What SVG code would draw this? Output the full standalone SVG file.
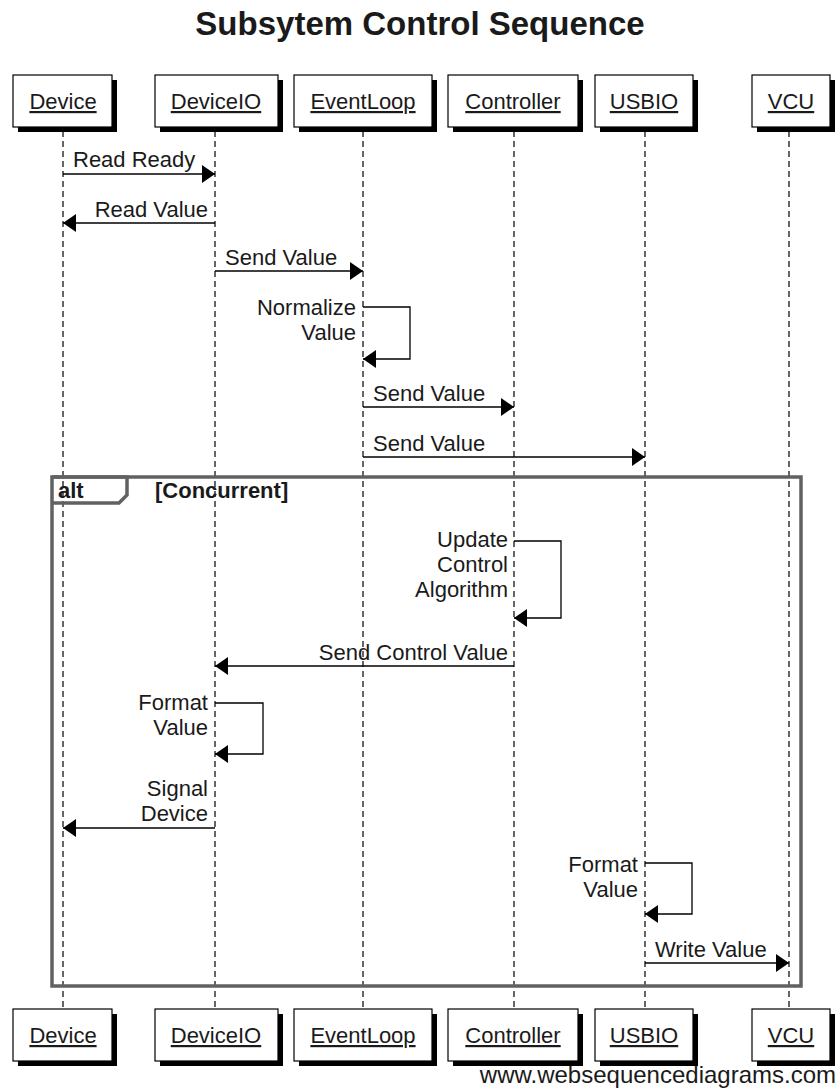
<svg xmlns="http://www.w3.org/2000/svg" width="840" height="1089" viewBox="0 0 840 1089">
<defs>
<marker id="ah" viewBox="0 0 13 18" refX="13" refY="9" markerWidth="13" markerHeight="18" markerUnits="userSpaceOnUse" orient="auto">
<path d="M0,0 L13,9 L0,18 z" fill="#000"/>
</marker>
</defs>
<style>
text{font-family:"Liberation Sans",Arial,sans-serif;fill:#1a1a1a;}
.lbl{font-size:22px;}
.msgl{font-size:22px;text-anchor:end;}
.pl{font-size:22px;text-anchor:middle;text-decoration:underline;}
.box{fill:#fff;stroke:#000;stroke-width:1.2;}
.shd{fill:#000;}
.life{stroke:#000;stroke-width:1.2;stroke-dasharray:6,4;fill:none;}
.msg{stroke:#000;stroke-width:1.3;fill:none;marker-end:url(#ah);}
.frame{fill:none;stroke:#616161;stroke-width:3.5;}
.bold{font-size:22px;font-weight:bold;}
</style>
<rect width="840" height="1089" fill="#fff"/>
<text x="420" y="35" text-anchor="middle" style="font-size:33px;font-weight:bold">Subsytem Control Sequence</text>

<g id="lifelines">
<line class="life" x1="63" y1="131" x2="63" y2="1009"/>
<line class="life" x1="215" y1="131" x2="215" y2="1009"/>
<line class="life" x1="363" y1="131" x2="363" y2="1009"/>
<line class="life" x1="514" y1="131" x2="514" y2="1009"/>
<line class="life" x1="645" y1="131" x2="645" y2="1009"/>
<line class="life" x1="789" y1="131" x2="789" y2="1009"/>
</g>

<g id="alt-frame">
<rect class="frame" x="52" y="477" width="749" height="509"/>
<path d="M52,477 H127 V495 L119,503 H52" fill="none" stroke="#616161" stroke-width="3.5"/>
<text class="bold" x="58" y="498">alt</text>
<text class="bold" x="155" y="498">[Concurrent]</text>
</g>

<g id="connectors">
<line class="msg" x1="63" y1="174" x2="215" y2="174"/>
<text class="lbl" x="73" y="167">Read Ready</text>
<line class="msg" x1="215" y1="223" x2="63" y2="223"/>
<text class="msgl" x="208" y="217">Read Value</text>
<line class="msg" x1="215" y1="271" x2="363" y2="271"/>
<text class="lbl" x="225" y="265">Send Value</text>
<path class="msg" d="M363,307 H410 V359 H363"/>
<text class="msgl" x="356" y="315">Normalize</text>
<text class="msgl" x="356" y="340">Value</text>
<line class="msg" x1="363" y1="407" x2="514" y2="407"/>
<text class="lbl" x="373" y="401">Send Value</text>
<line class="msg" x1="363" y1="457" x2="645" y2="457"/>
<text class="lbl" x="373" y="451">Send Value</text>
<path class="msg" d="M514,541 H561 V618 H514"/>
<text class="msgl" x="508" y="547">Update</text>
<text class="msgl" x="508" y="572">Control</text>
<text class="msgl" x="508" y="597">Algorithm</text>
<line class="msg" x1="514" y1="666" x2="215" y2="666"/>
<text class="msgl" x="508" y="660">Send Control Value</text>
<path class="msg" d="M215,703 H263 V754 H215"/>
<text class="msgl" x="208" y="710">Format</text>
<text class="msgl" x="208" y="735">Value</text>
<line class="msg" x1="215" y1="828" x2="63" y2="828"/>
<text class="msgl" x="208" y="796">Signal</text>
<text class="msgl" x="208" y="821">Device</text>
<path class="msg" d="M645,863 H692 V914 H645"/>
<text class="msgl" x="638" y="872">Format</text>
<text class="msgl" x="638" y="897">Value</text>
<line class="msg" x1="645" y1="963" x2="789" y2="963"/>
<text class="lbl" x="655" y="957">Write Value</text>
</g>

<g id="p-device-top"><rect class="shd" x="18" y="80" width="99" height="52"/><rect class="box" x="13" y="75" width="99" height="52"/><text class="pl" x="63" y="109">Device</text></g>
<g id="p-deviceio-top"><rect class="shd" x="160" y="80" width="123" height="52"/><rect class="box" x="155" y="75" width="123" height="52"/><text class="pl" x="216" y="109">DeviceIO</text></g>
<g id="p-eventloop-top"><rect class="shd" x="299" y="80" width="138" height="52"/><rect class="box" x="294" y="75" width="138" height="52"/><text class="pl" x="363" y="109">EventLoop</text></g>
<g id="p-controller-top"><rect class="shd" x="453" y="80" width="130" height="52"/><rect class="box" x="448" y="75" width="130" height="52"/><text class="pl" x="513" y="109">Controller</text></g>
<g id="p-usbio-top"><rect class="shd" x="600" y="80" width="98" height="52"/><rect class="box" x="595" y="75" width="98" height="52"/><text class="pl" x="644" y="109">USBIO</text></g>
<g id="p-vcu-top"><rect class="shd" x="757" y="80" width="78" height="52"/><rect class="box" x="752" y="75" width="78" height="52"/><text class="pl" x="791" y="109">VCU</text></g>

<g id="p-device-bottom"><rect class="shd" x="18" y="1014" width="99" height="52"/><rect class="box" x="13" y="1009" width="99" height="52"/><text class="pl" x="63" y="1043">Device</text></g>
<g id="p-deviceio-bottom"><rect class="shd" x="160" y="1014" width="123" height="52"/><rect class="box" x="155" y="1009" width="123" height="52"/><text class="pl" x="216" y="1043">DeviceIO</text></g>
<g id="p-eventloop-bottom"><rect class="shd" x="299" y="1014" width="138" height="52"/><rect class="box" x="294" y="1009" width="138" height="52"/><text class="pl" x="363" y="1043">EventLoop</text></g>
<g id="p-controller-bottom"><rect class="shd" x="453" y="1014" width="130" height="52"/><rect class="box" x="448" y="1009" width="130" height="52"/><text class="pl" x="513" y="1043">Controller</text></g>
<g id="p-usbio-bottom"><rect class="shd" x="600" y="1014" width="98" height="52"/><rect class="box" x="595" y="1009" width="98" height="52"/><text class="pl" x="644" y="1043">USBIO</text></g>
<g id="p-vcu-bottom"><rect class="shd" x="757" y="1014" width="78" height="52"/><rect class="box" x="752" y="1009" width="78" height="52"/><text class="pl" x="791" y="1043">VCU</text></g>

<text x="836" y="1083" text-anchor="end" style="font-size:24px">www.websequencediagrams.com</text>
</svg>
